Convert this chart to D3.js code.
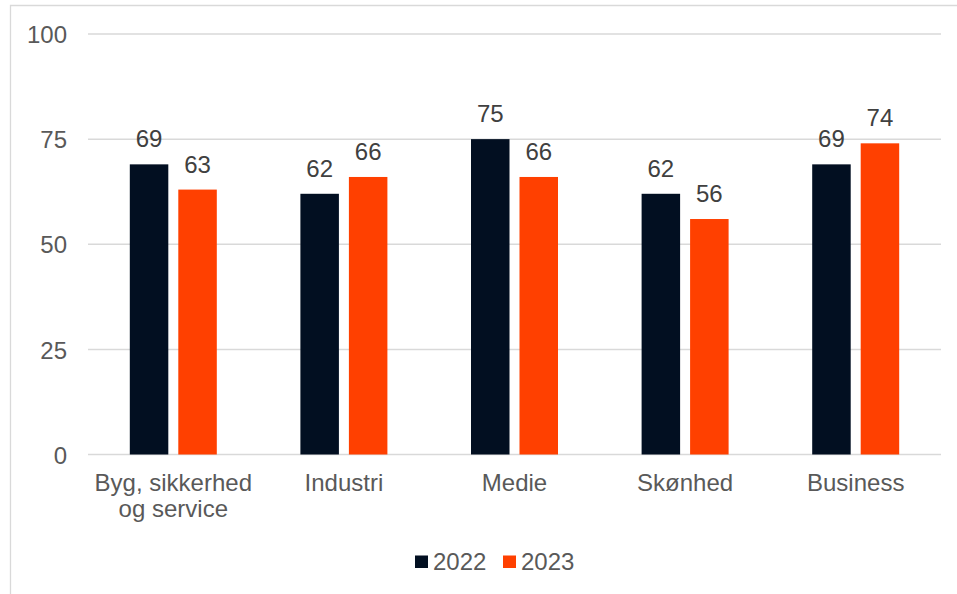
<!DOCTYPE html>
<html>
<head>
<meta charset="utf-8">
<script src="https://cdn.jsdelivr.net/npm/d3@7"></script>
<style>
  html, body { margin: 0; padding: 0; background: #ffffff; }
  svg { display: block; }
</style>
</head>
<body>
<script>
const categories = [["Byg, sikkerhed", "og service"], ["Industri"], ["Medie"], ["Skønhed"], ["Business"]];
const seriesNames = ["2022", "2023"];
const values2022 = [69, 62, 75, 62, 69];
const values2023 = [63, 66, 66, 56, 74];
const yTicks = [0, 25, 50, 75, 100];
const colors = ["#020F21", "#FF4000"];

const W = 957, H = 594;
const svg = d3.select("body").append("svg").attr("width", W).attr("height", H);

// frame
svg.append("path")
  .attr("d", `M10.5,${H} L10.5,5.5 L${W},5.5`)
  .attr("fill", "none").attr("stroke", "#D9D9D9").attr("stroke-width", 1.3);

const catKeys = categories.map((c, i) => i);
const x = d3.scaleBand().domain(catKeys).range([88, 941]).paddingInner(0).paddingOuter(0);
const y = d3.scaleLinear().domain([0, 100]).range([454.5, 34]);
const xs = d3.scaleBand().domain(seriesNames).range([-43.5, 43.5]).paddingInner(0.206).paddingOuter(0);

// gridlines
const yAxis = d3.axisLeft(y).tickValues(yTicks).tickSize(0).tickPadding(0);
const gy = svg.append("g").attr("transform", "translate(0,0)");
gy.selectAll("line.grid").data(yTicks).enter().append("line")
  .attr("x1", 88).attr("x2", 941)
  .attr("y1", d => y(d)).attr("y2", d => y(d))
  .attr("stroke", "#D9D9D9").attr("stroke-width", 1.5);

const ga = svg.append("g").attr("transform", "translate(67,0)").call(yAxis);
ga.select(".domain").remove();
ga.selectAll("text")
  .attr("font-family", "Liberation Sans, Arial, sans-serif")
  .attr("font-size", 24).attr("fill", "#595959").attr("dy", "0.36em");

const data = [values2022, values2023];

const groups = svg.selectAll("g.cat").data(catKeys).enter().append("g")
  .attr("transform", d => `translate(${x(d) + x.bandwidth() / 2},0)`);

seriesNames.forEach((s, si) => {
  groups.append("rect")
    .attr("x", xs(s))
    .attr("width", xs.bandwidth())
    .attr("y", d => y(data[si][d]))
    .attr("height", d => y(0) - y(data[si][d]))
    .attr("fill", colors[si]);
  groups.append("text")
    .attr("x", xs(s) + xs.bandwidth() / 2)
    .attr("y", d => y(data[si][d]) - 17)
    .attr("text-anchor", "middle")
    .attr("font-family", "Liberation Sans, Arial, sans-serif")
    .attr("font-size", 24).attr("fill", "#404040")
    .text(d => data[si][d]);
});

// category labels
groups.each(function(d) {
  const t = d3.select(this).append("text")
    .attr("text-anchor", "middle")
    .attr("font-family", "Liberation Sans, Arial, sans-serif")
    .attr("font-size", 24).attr("fill", "#595959");
  categories[d].forEach((line, li) => {
    t.append("tspan").attr("x", 0).attr("y", 490.5 + li * 26.5).text(line);
  });
});

// legend
const legendX = [415, 503];
seriesNames.forEach((s, i) => {
  const lg = svg.append("g").attr("transform", `translate(${legendX[i]},0)`);
  lg.append("rect").attr("x", 0).attr("y", 555.5).attr("width", 13).attr("height", 12.5).attr("fill", colors[i]);
  lg.append("text").attr("x", 18).attr("y", 569.5)
    .attr("font-family", "Liberation Sans, Arial, sans-serif")
    .attr("font-size", 24).attr("fill", "#595959").text(s);
});
</script>
</body>
</html>
